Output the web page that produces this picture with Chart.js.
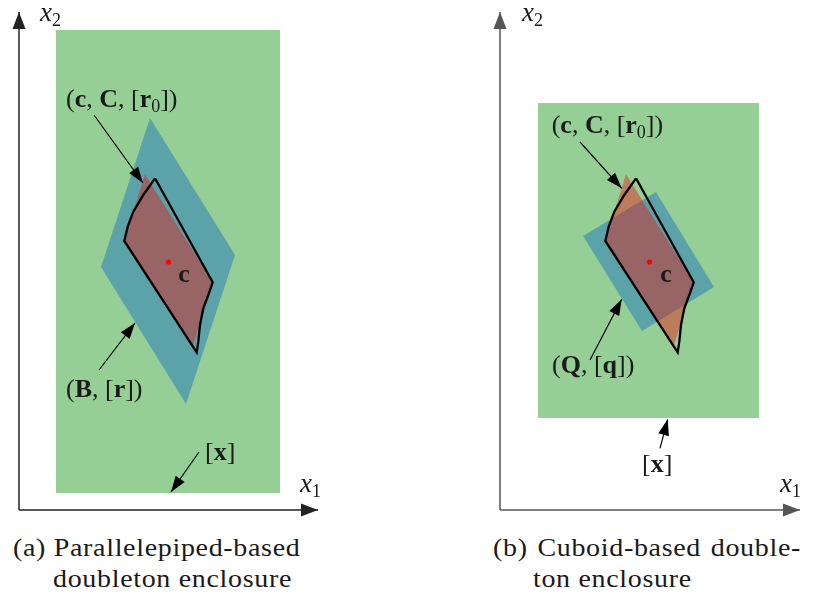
<!DOCTYPE html>
<html lang="en">
<head>
<meta charset="UTF-8" />
<title>Doubleton enclosures</title>
<script src="https://cdn.jsdelivr.net/npm/chart.js"></script>
<style>
  html, body { margin: 0; padding: 0; background: #fff; }
  body {
    width: 813px; height: 594px; position: relative; overflow: hidden;
    font-family: "Liberation Serif", serif; color: #1a1a1a;
  }
  .panel { position: absolute; top: 0; width: 406px; height: 530px; }
  #panelA { left: 0; }
  #panelB { left: 407px; }
  .cap {
    position: absolute; font-size: 25px; line-height: 31px; letter-spacing: 0.6px;
    white-space: nowrap; transform: scaleX(1.12); transform-origin: left center;
  }
  .just { text-align: justify; text-align-last: justify; white-space: normal; }
</style>
</head>
<body>
<div class="panel" id="panelA"><canvas id="chartA"></canvas></div>
<div class="panel" id="panelB"><canvas id="chartB"></canvas></div>

<div class="cap" style="left:13px; top:532px">(a) Parallelepiped-based</div>
<div class="cap" style="left:53px; top:563px">doubleton enclosure</div>
<div class="cap just" style="left:493px; top:532px; width:275px">(b) Cuboid-based double-</div>
<div class="cap" style="left:533px; top:563px">ton enclosure</div>

<script>
// geometry in (x1, x2) units, origin at the axes corner of each panel
const axisX1A = [[0, 0], [29.9, 0]];
const axisX1B = [[0, 0], [30.0, 0]];
const axisX2 = [[0, 0], [0, 49.8]];

const boxA = [[3.7, 1.7], [26.1, 1.7], [26.1, 48.0], [3.7, 48.0], [3.7, 1.7]];
const boxB = [[3.8, 9.2], [25.9, 9.2], [25.9, 40.7], [3.8, 40.7], [3.8, 9.2]];

// (B, [r]) parallelepiped and (Q, [q]) cuboid
const parA = [[13.1, 39.2], [21.6, 25.5], [16.7, 10.6], [8.2, 24.3], [13.1, 39.2]];
const cubB = [[15.6, 31.8], [21.4, 22.3], [14.2, 17.9], [8.3, 27.4], [15.6, 31.8]];

// (c, C, [r0]) and the true image outline, same in both panels
const setC = [[12.6, 33.57], [19.37, 22.77], [17.33, 16.23], [10.53, 26.9], [12.6, 33.57]];
const outline = [
  [13.6, 33.17], [19.37, 22.77], [18.93, 21.5], [18.43, 20.17], [18.1, 18.5],
  [17.93, 16.83], [17.77, 15.77], [10.53, 26.9], [10.87, 28.33], [11.43, 29.83],
  [12.43, 31.5], [13.6, 33.17]
];
const center = [[14.95, 24.8]];

const arrowsA = [
  [[7.5, 39.5], [12.4, 32.7]],
  [[8.0, 14.0], [11.6, 18.7]],
  [[18.0, 5.8], [15.2, 1.8]]
];
const arrowsB = [
  [[8.0, 36.8], [12.17, 32.17]],
  [[9.0, 15.0], [12.17, 21.07]],
  [[16.0, 6.17], [16.77, 9.07]]
];

// labels: position, alignment, runs of [text, style]
const cLabel = [["(", "r"], ["c", "b"], [", ", "r"], ["C", "b"], [", ", "r"], ["[", "r"], ["r", "b"], ["0", "sub"], ["]", "r"], [")", "r"]];
const labelsA = [
  { at: [4.7, 41.0], runs: cLabel },
  { at: [4.7, 12.0], runs: [["(", "r"], ["B", "b"], [", ", "r"], ["[", "r"], ["r", "b"], ["]", "r"], [")", "r"]] },
  { at: [18.6, 5.75], runs: [["[", "r"], ["x", "b"], ["]", "r"]] },
  { at: [16.5, 23.5], align: "center", runs: [["c", "b"]] },
  { at: [2.1, 49.6], runs: [["x", "i"], ["2", "sub"]] },
  { at: [28.1, 2.5], runs: [["x", "i"], ["1", "sub"]] }
];
const labelsB = [
  { at: [5.17, 38.4], runs: cLabel },
  { at: [5.2, 14.4], runs: [["(", "r"], ["Q", "b"], [", ", "r"], ["[", "r"], ["q", "b"], ["]", "r"], [")", "r"]] },
  { at: [14.2, 4.5], runs: [["[", "r"], ["x", "b"], ["]", "r"]] },
  { at: [16.6, 23.5], align: "center", runs: [["c", "b"]] },
  { at: [2.2, 49.6], runs: [["x", "i"], ["2", "sub"]] },
  { at: [28.0, 2.5], runs: [["x", "i"], ["1", "sub"]] }
];
const labelSets = { chartA: labelsA, chartB: labelsB };

const GREEN = "#96cf96";
const TEAL = "#5ba3a8";
const BROWN = "rgba(245, 5, 0, 0.4)";

const fonts = {
  r: '26px "Liberation Serif"',
  b: 'bold 26px "Liberation Serif"',
  i: 'italic 27px "Liberation Serif"',
  sub: '18px "Liberation Serif"'
};

const toXY = pts => pts.map(([x, y]) => ({ x, y }));

function polygon(pts, color, order) {
  return {
    data: toXY(pts), backgroundColor: color, borderColor: "transparent",
    borderWidth: 0, fill: "shape", pointRadius: 0, order
  };
}

function arrow(pts, color, width, head) {
  return {
    data: toXY(pts), borderColor: color, backgroundColor: color,
    borderWidth: width, fill: false, pointRadius: 0, order: 1, head
  };
}

// filled arrow heads at the last point of a dataset
const arrowHeads = {
  id: "arrowHeads",
  afterDatasetsDraw(chart) {
    const ctx = chart.ctx;
    chart.data.datasets.forEach((ds, i) => {
      if (!ds.head) return;
      const pts = chart.getDatasetMeta(i).data;
      const a = pts[pts.length - 2], b = pts[pts.length - 1];
      const ang = Math.atan2(b.y - a.y, b.x - a.x);
      const [len, half] = ds.head;
      ctx.save();
      ctx.translate(b.x, b.y);
      ctx.rotate(ang);
      ctx.beginPath();
      ctx.moveTo(0, 0);
      ctx.lineTo(-len, -half);
      ctx.lineTo(-len, half);
      ctx.closePath();
      ctx.fillStyle = ds.borderColor;
      ctx.fill();
      ctx.restore();
    });
  }
};

// mixed upright / bold / italic / subscript labels
const richLabels = {
  id: "richLabels",
  afterDraw(chart) {
    const { ctx, scales: { x, y } } = chart;
    const items = labelSets[chart.canvas.id] || [];
    items.forEach(item => {
      ctx.save();
      const runs = item.runs.map(([text, style]) => {
        ctx.font = fonts[style];
        return { text, style, w: ctx.measureText(text).width };
      });
      const total = runs.reduce((s, r) => s + r.w, 0);
      let px = x.getPixelForValue(item.at[0]);
      if (item.align === "center") px -= total / 2;
      const base = y.getPixelForValue(item.at[1]) + 7;
      ctx.fillStyle = "#1a1a1a";
      ctx.textBaseline = "alphabetic";
      runs.forEach(r => {
        ctx.font = fonts[r.style];
        ctx.fillText(r.text, px, base + (r.style === "sub" ? 5 : 0));
        px += r.w;
      });
      ctx.restore();
    });
  }
};

function makeChart(id, xMin, xMax, box, enclosure, arrows, axisX1, axisColor) {
  const datasets = [
    polygon(box, GREEN, 7),
    polygon(enclosure, TEAL, 6),
    polygon(setC, BROWN, 5),
    {
      data: toXY(outline), borderColor: "#000", borderWidth: 2.3,
      borderJoinStyle: "miter", fill: false, pointRadius: 0, order: 4
    },
    {
      data: toXY(center), showLine: false, pointRadius: 2.6,
      pointBackgroundColor: "#ff0000", pointBorderWidth: 0, order: 3
    },
    ...arrows.map(a => arrow(a, "#000", 1.2, [16, 5.5])),
    arrow(axisX1, axisColor, 1.5, [17, 6.5]),
    arrow(axisX2, axisColor, 1.5, [17, 6.5])
  ];
  new Chart(document.getElementById(id), {
    type: "line",
    data: { datasets },
    options: {
      responsive: true,
      maintainAspectRatio: false,
      animation: false,
      events: [],
      layout: { padding: 0, autoPadding: false },
      plugins: { legend: { display: false }, tooltip: { enabled: false } },
      scales: {
        x: { type: "linear", min: xMin, max: xMax, display: false },
        y: { type: "linear", min: -2, max: 51, display: false }
      }
    },
    plugins: [arrowHeads, richLabels]
  });
}

makeChart("chartA", -1.9, 38.7, boxA, parA, arrowsA, axisX1A, "#222");
makeChart("chartB", -9.3, 31.3, boxB, cubB, arrowsB, axisX1B, "#555");
</script>
</body>
</html>
